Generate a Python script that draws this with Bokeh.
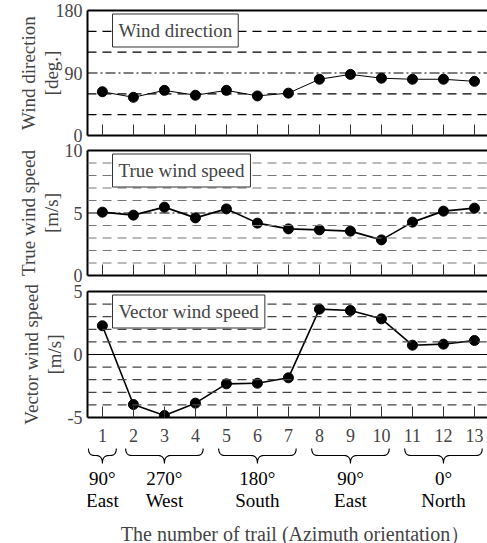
import numpy as np
from bokeh.plotting import figure
from bokeh.models import Range1d, LinearAxis, FixedTicker, Span, Label
from bokeh.layouts import column
from bokeh.embed import file_html
from bokeh.resources import INLINE
from bokeh.core.properties import value

# ---------------- data ----------------
trails = [1, 2, 3, 4, 5, 6, 7, 8, 9, 10, 11, 12, 13]
wind_direction = [63, 55, 65, 58, 65, 57, 61, 81, 88, 82.5, 81, 81, 78]
true_wind_speed = [5.07, 4.83, 5.47, 4.61, 5.33, 4.19, 3.73, 3.65, 3.55, 2.85, 4.27, 5.15, 5.39]
vector_wind_speed = [2.28, -3.97, -4.84, -3.86, -2.33, -2.28, -1.85, 3.6, 3.49, 2.83, 0.74, 0.82, 1.11]

groups = [(1, 1), (2, 4), (5, 7), (8, 10), (11, 13)]
group_degrees = ["90°", "270°", "180°", "90°", "0°"]
group_directions = ["East", "West", "South", "East", "North"]

dir_ticks = [0, 90, 180]
dir_grid = [30, 60, 120, 150]
dir_mark = 90
speed_ticks = [0, 5, 10]
speed_grid = [1, 2, 3, 4, 6, 7, 8, 9]
speed_mark = 5
vec_ticks = [-5, 0, 5]
vec_grid = [-4, -3, -2, -1, 1, 2, 3, 4]
vec_mark = 0

x_title = "The number of trail (Azimuth orientation）"

FONT = "Liberation Serif"
W = 487
LEFT = 87
x_range = Range1d(0.52, 13.42)


def panel(height, top, bottom, yr, ticks, grid, mark, mark_dash, grid_color,
          ylabel, box_text, yvals, line_w, label_standoff=0, overlap=0,
          show_numbers=False):
    kw = {}
    if overlap:
        kw["styles"] = {"margin-top": "-%dpx" % overlap}
    p = figure(width=W, height=height, x_range=x_range, y_range=Range1d(*yr),
               output_backend="svg", toolbar_location=None,
               min_border_left=LEFT, min_border_right=0,
               min_border_top=top, min_border_bottom=bottom,
               x_axis_location=None, y_axis_location=None,
               background_fill_color="white",
               border_fill_color=None if overlap else "white",
               outline_line_color=None, **kw)
    p.xgrid.visible = False
    p.ygrid.visible = False

    for g in grid:
        p.add_layout(Span(location=g, dimension="width", line_color=grid_color,
                          line_dash="9 6", line_width=1.2))
    p.add_layout(Span(location=mark, dimension="width", line_color="black",
                      line_dash=mark_dash, line_width=1.2))

    xa = LinearAxis(ticker=FixedTicker(ticks=trails), major_tick_in=11, major_tick_out=0,
                    minor_tick_in=0, minor_tick_out=0, axis_line_width=2,
                    major_tick_line_width=1, major_tick_line_color="#333")
    if show_numbers:
        xa.major_label_text_font = FONT
        xa.major_label_text_font_size = "18px"
        xa.major_label_standoff = 11
    else:
        xa.major_label_text_font_size = "1px"
        xa.major_label_text_color = None
        xa.major_label_standoff = 0
    p.add_layout(xa, "below")

    top_ax = LinearAxis(ticker=FixedTicker(ticks=[]), major_tick_in=0, major_tick_out=0,
                        minor_tick_in=0, minor_tick_out=0, axis_line_width=2,
                        major_label_text_font_size="1px", major_label_text_color=None,
                        major_label_standoff=0)
    p.add_layout(top_ax, "above")

    ya = LinearAxis(ticker=FixedTicker(ticks=ticks), major_tick_in=0, major_tick_out=0,
                    minor_tick_in=0, minor_tick_out=0, axis_line_width=2,
                    major_label_text_font=FONT, major_label_text_font_size="18px",
                    major_label_standoff=5,
                    major_label_overrides={t: str(t) for t in ticks},
                    axis_label=ylabel, axis_label_text_font=FONT,
                    axis_label_text_font_size="19px", axis_label_text_font_style="normal",
                    axis_label_standoff=label_standoff, axis_label_text_line_height=1.05)
    p.add_layout(ya, "left")

    p.line(trails, yvals, line_color="black", line_width=line_w)
    p.scatter(trails, yvals, size=10, color="black")

    frame_h = height - top - bottom
    p.add_layout(Label(x=25, y=frame_h - 20, x_units="screen", y_units="screen",
                       text=box_text, text_font=FONT, text_font_size="19px",
                       text_align="left", text_baseline="middle",
                       background_fill_color="white", border_line_color="#333",
                       border_line_width=1, padding=6))
    return p


# canvases overlap slightly (transparent borders) so edge tick labels are not clipped
p1 = panel(152, 10, 17, (0, 180), dir_ticks, dir_grid, dir_mark, "10 3 2 3", "black",
           "Wind direction\n[deg.]", "Wind direction", wind_direction, 1.0,
           label_standoff=-9)
p2 = panel(151, 9, 17, (0, 10), speed_ticks, speed_grid, speed_mark, "10 3 2 3", "#777777",
           "True wind speed\n[m/s]", "True wind speed", true_wind_speed, 1.6,
           overlap=11)
p3 = panel(169, 13, 30, (-5, 5), vec_ticks, vec_grid, vec_mark, "solid", "#444444",
           "Vector wind speed\n[m/s]", "Vector wind speed", vector_wind_speed, 1.6,
           overlap=14, show_numbers=True)

# ---------------- bottom annotation strip ----------------
p4 = figure(width=W, height=96, x_range=x_range, y_range=Range1d(96, 0),
            output_backend="svg", toolbar_location=None,
            min_border_left=LEFT, min_border_right=0, min_border_top=0, min_border_bottom=0,
            x_axis_location=None, y_axis_location=None,
            background_fill_color="white", border_fill_color="white",
            outline_line_color=None)
p4.xgrid.visible = False
p4.ygrid.visible = False


def qb(p0, c, p2, n=10):
    t = np.linspace(0, 1, n)
    x = (1 - t) ** 2 * p0[0] + 2 * (1 - t) * t * c[0] + t ** 2 * p2[0]
    y = (1 - t) ** 2 * p0[1] + 2 * (1 - t) * t * c[1] + t ** 2 * p2[1]
    return list(x), list(y)


top_y, mid_y, tip_y, r = 1, 8, 16, 0.2
bx, by, cx = [], [], []
for a, b in groups:
    pad = 0.45 if a == b else 0.25
    xa_, xb_ = a - pad, b + pad
    xc = (a + b) / 2
    cx.append(xc)
    xs, ys = [], []
    for seg in [qb((xa_, top_y), (xa_, mid_y), (xa_ + r, mid_y)),
                qb((xc - r, mid_y), (xc, mid_y), (xc, tip_y)),
                qb((xc, tip_y), (xc, mid_y), (xc + r, mid_y)),
                qb((xb_ - r, mid_y), (xb_, mid_y), (xb_, top_y))]:
        xs += seg[0]
        ys += seg[1]
    bx.append(xs)
    by.append(ys)

p4.multi_line(bx, by, line_color="black", line_width=1.1)
p4.text(x=cx, y=[31] * len(cx), text=group_degrees, text_font=value(FONT),
        text_font_size="19px", text_align="center", text_baseline="middle", text_color="black")
p4.text(x=cx, y=[53] * len(cx), text=group_directions, text_font=value(FONT),
        text_font_size="19px", text_align="center", text_baseline="middle", text_color="black")
p4.add_layout(Label(x=208, y=10, x_units="screen", y_units="screen", text=x_title,
                    text_font=FONT, text_font_size="20px", text_align="center",
                    text_baseline="middle"))

layout = column(p1, p2, p3, p4, spacing=0)
open("out.html", "w").write(file_html(layout, INLINE))
